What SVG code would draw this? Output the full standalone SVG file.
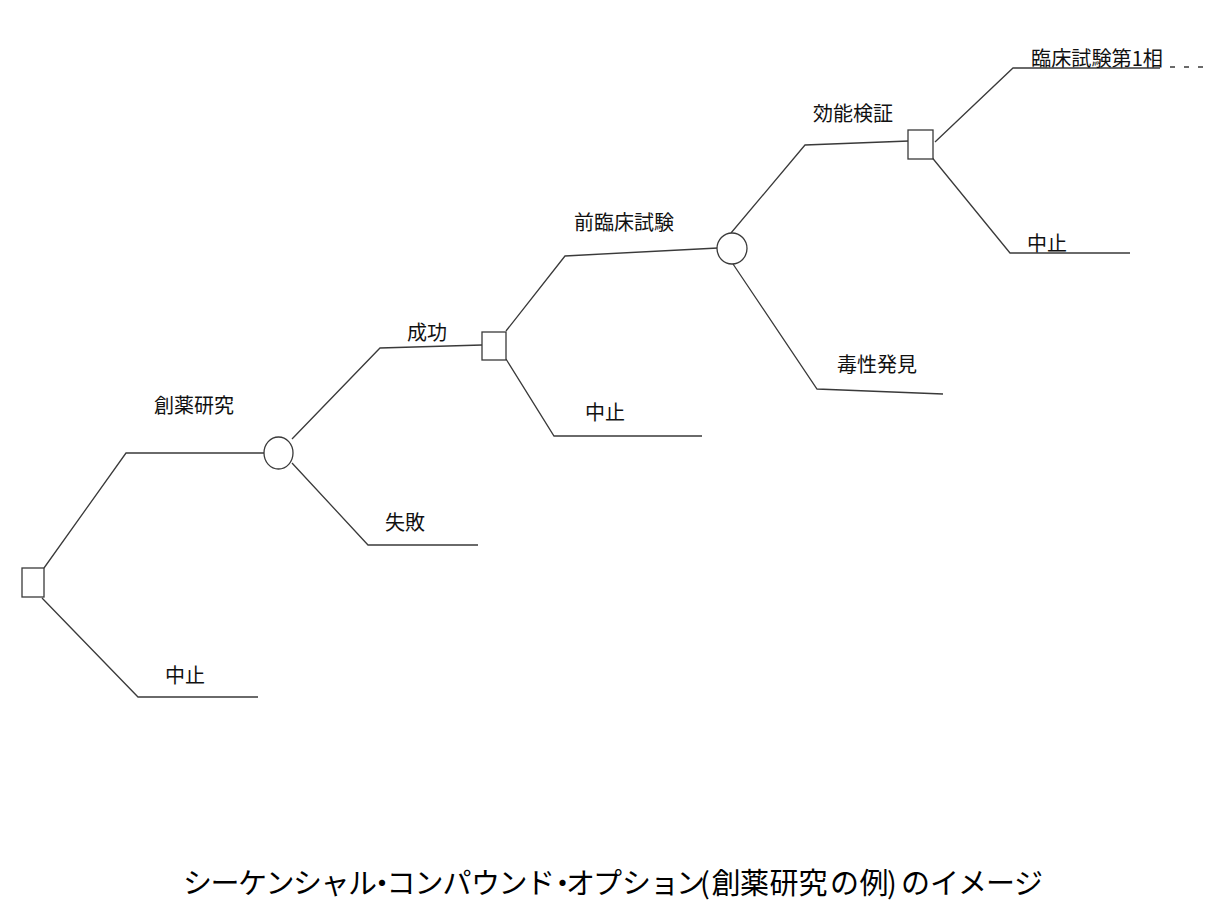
<svg xmlns="http://www.w3.org/2000/svg" width="1209" height="901" viewBox="0 0 1209 901">
<style>
.ln{fill:none;stroke:#3a3a3a;stroke-width:1.3}
.nd{fill:#fff;stroke:#3a3a3a;stroke-width:1.3}
.lb{font-family:"Noto Sans CJK JP","Noto Sans",sans-serif;font-size:20px;fill:#111}
.tt{font-family:"Noto Sans CJK JP","Noto Sans",sans-serif;font-size:29px;fill:#000}
</style>
<rect width="1209" height="901" fill="#fff"/>
<g id="connectors">
<path class="ln" d="M44,568 L126,453 L264,453"/>
<path class="ln" d="M42,598 L138,697 L258,697"/>
<path class="ln" d="M292,439 L380,348 L482,345"/>
<path class="ln" d="M292,463 L368,545 L478,545"/>
<path class="ln" d="M506,331 L565,256 L718,248"/>
<path class="ln" d="M506,359 L554,436 L702,436"/>
<path class="ln" d="M731,233 L805,145 L909,141"/>
<path class="ln" d="M733,264 L817,389 L943,394"/>
<path class="ln" d="M935,142 L1013,68 L1160,68"/>
<path class="ln" d="M1170,67 L1204,67" stroke-dasharray="5 9"/>
<path class="ln" d="M930,155 L1010,253 L1130,253"/>
</g>
<g id="decision1"><rect class="nd" x="22" y="568" width="22" height="29"/></g>
<g id="chance1"><ellipse class="nd" cx="278.5" cy="453" rx="14.5" ry="16"/></g>
<g id="decision2"><rect class="nd" x="482" y="332" width="24" height="28"/></g>
<g id="chance2"><ellipse class="nd" cx="732" cy="248.5" rx="15" ry="15.5"/></g>
<g id="decision3"><rect class="nd" x="908" y="130" width="25" height="29"/></g>
<g id="labels">
<text class="lb" x="154" y="413">創薬研究</text>
<text class="lb" x="165" y="683">中止</text>
<text class="lb" x="407" y="340">成功</text>
<text class="lb" x="385" y="530">失敗</text>
<text class="lb" x="574" y="230">前臨床試験</text>
<text class="lb" x="585" y="420">中止</text>
<text class="lb" x="813" y="121">効能検証</text>
<text class="lb" x="837" y="372">毒性発見</text>
<text class="lb" x="1031" y="66" textLength="132" lengthAdjust="spacingAndGlyphs">臨床試験第1相</text>
<text class="lb" x="1027" y="251">中止</text>
</g>
<g id="title">
<text class="tt" y="894" x="183 210.5 238 265.5 293 320.5 348 367.5 386.5 414.5 442.5 471 498.5 526 548 566 593 622 650 676 700 711.5 740 769.5 798.5 830 859.5 887 901 930 958 986 1014">シーケンシャル・コンパウンド・オプション(創薬研究の例)のイメージ</text>
</g>
</svg>
